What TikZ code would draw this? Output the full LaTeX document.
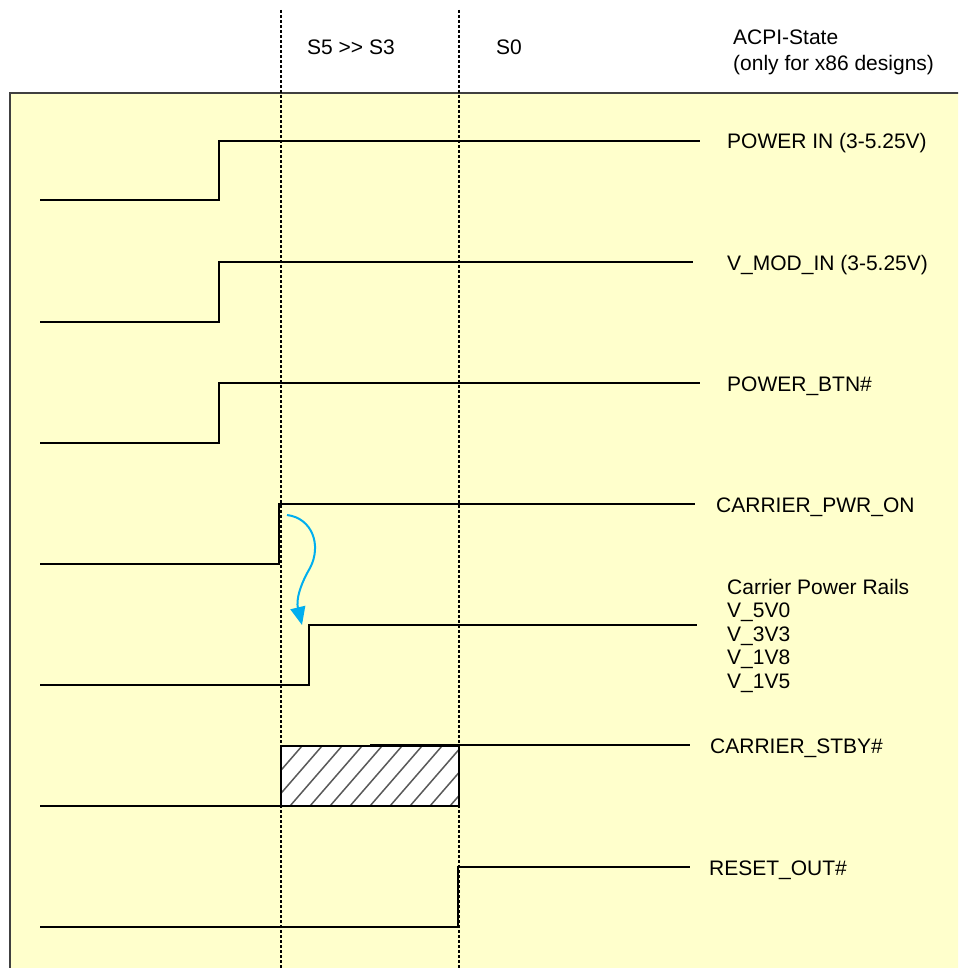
\documentclass[tikz,border=0pt]{standalone}
\usepackage{fontspec}
\setmainfont{Liberation Sans}
\usetikzlibrary{arrows.meta}
\definecolor{bgyellow}{RGB}{255,255,204}
\definecolor{arrowblue}{RGB}{0,174,239}
\tikzset{
  sig/.style={line width=2pt, black, line join=miter},
  phase/.style={line width=1.1pt, black, dash pattern=on 3pt off 2pt},
  lbl/.style={anchor=base west, inner sep=0pt, font=\fontsize{21}{23.4}\selectfont},
  hatchline/.style={line width=1.5pt, black!65},
}
\begin{document}
\begin{tikzpicture}[x=1pt,y=-1pt]
\clip (0,0) rectangle (958,968);
\fill[white] (0,0) rectangle (958,968);
% panel
\draw[fill=bgyellow, draw=black!75, line width=1.2pt] (10,93) rectangle (980,990);

% hatched region
\fill[white] (281,746) rectangle (459,806);
\begin{scope}
  \clip (281,746) rectangle (459,806);
  \foreach \x in {230,250,...,470} {
    \draw[hatchline] (\x,806) -- ++(52,-60);
  }
\end{scope}
\draw[line width=1.2pt, black] (281,746) rectangle (459,806);

% phase separators
\coordinate (p1t) at (281,10);
\coordinate (p1b) at (281,968);
\coordinate (p2t) at (459,10);
\coordinate (p2b) at (459,968);
\draw[phase] (p1t) -- (p1b);
\draw[phase] (p2t) -- (p2b);

% header labels
\node[lbl] (s5) at (307,55) {S5 >\kern0pt> S3};
\node[lbl] (s0) at (496,55) {S0};
\node[lbl, align=left, anchor=north west, font=\fontsize{21}{26}\selectfont] (acpi) at (733,30) {ACPI-State\\(only for x86 designs)};

% signals
\draw[sig] (40,200) -- (219,200) -- (219,141) -- (700,141);
\node[lbl] (pin) at (727,149) {POWER IN (3-5.25V)};

\draw[sig] (40,322) -- (219,322) -- (219,262) -- (693,262);
\node[lbl] (vmod) at (727,270) {V\_MOD\_IN (3-5.25V)};

\draw[sig] (40,443) -- (219,443) -- (219,383) -- (700,383);
\node[lbl] (pbtn) at (727,391) {POWER\_BTN\#};

\draw[sig] (40,564) -- (279,564) -- (279,504) -- (695,504);
\node[lbl] (cpwr) at (716,512) {CARRIER\_PWR\_ON};

\draw[sig] (40,685) -- (309,685) -- (309,625) -- (697,625);
\node[lbl, align=left, anchor=north west] (rails) at (727,579) {Carrier Power Rails\\V\_5V0\\V\_3V3\\V\_1V8\\V\_1V5};

\draw[sig] (40,806) -- (281,806);
\draw[sig] (370,745) -- (690,745);
\node[lbl] (stby) at (710,753) {CARRIER\_STBY\#};

\draw[sig] (40,927) -- (458,927) -- (458,867) -- (690,867);
\node[lbl] (rst) at (709,875) {RESET\_OUT\#};

% causal arrow
\coordinate (a1) at (287,515);
\coordinate (a2) at (310,568);
\coordinate (a3) at (302,625);
\draw[arrowblue, line width=2pt, -{Triangle[width=15pt,length=18pt]}]
  (a1) .. controls (312,518) and (322,545) .. (a2)
       .. controls (300,585) and (296,600) .. (a3);
\end{tikzpicture}
\end{document}
